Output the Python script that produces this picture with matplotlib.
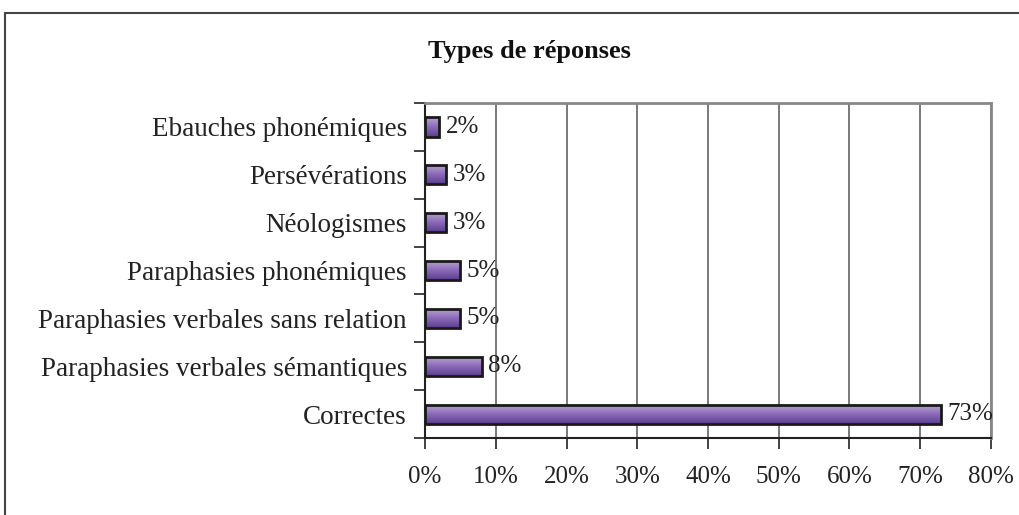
import numpy as np
import matplotlib.pyplot as plt
from matplotlib.patches import Rectangle
from matplotlib.colors import LinearSegmentedColormap

categories = ['Correctes', 'Paraphasies verbales sémantiques', 'Paraphasies verbales sans relation',
              'Paraphasies phonémiques', 'Néologismes', 'Persévérations', 'Ebauches phonémiques']
values = [73, 8, 5, 5, 3, 3, 2]
xticks = [0, 10, 20, 30, 40, 50, 60, 70, 80]

plt.rcParams['font.family'] = ['Liberation Serif', 'DejaVu Serif']

fig = plt.figure(figsize=(10.19, 5.15), dpi=100)
ax = fig.add_axes([0.4171, 0.1495, 0.5554, 0.6505])

y = np.arange(len(categories))
bars = ax.barh(y, values, height=0.4, facecolor='none', edgecolor='#1a1a1a', linewidth=2, zorder=3)

# gradient fill, dark top to light bottom
cmap = LinearSegmentedColormap.from_list('purp', ['#5a3f8e', '#8a6bb8', '#bda2d6'])
grad = np.linspace(0, 1, 64).reshape(-1, 1)
for b in bars:
    x0, y0, w, h = b.get_x(), b.get_y(), b.get_width(), b.get_height()
    im = ax.imshow(grad, cmap=cmap, aspect='auto', extent=(x0, x0 + w, y0 + h, y0),
                   origin='upper', zorder=2)
    im.set_clip_path(b)

for yi, v in zip(y, values):
    ax.text(v + 0.9, yi, f'{v}%', va='center', ha='left', fontsize=18, color='#222222', zorder=4)

ax.set_xlim(0, 80)
ax.set_ylim(-0.5, len(categories) - 0.5)
ax.set_xticks(xticks)
ax.set_xticklabels([f'{t}%' for t in xticks], fontsize=18, color='#222222')
ax.set_yticks(y)
ax.set_yticklabels(categories, fontsize=19.5, color='#222222')
ax.set_yticks(np.arange(-0.5, len(categories)), minor=True)
ax.tick_params(axis='y', which='major', length=0, pad=13)
ax.tick_params(axis='y', which='minor', length=8, width=1.2, color='#222222')
ax.tick_params(axis='x', length=8, width=1.2, color='#222222', pad=12)
ax.xaxis.grid(True, color='#555555', linewidth=1.1, zorder=0)
ax.set_axisbelow(True)
ax.spines['left'].set_color('#222222')
ax.spines['left'].set_linewidth(1.5)
ax.spines['bottom'].set_color('#222222')
ax.spines['bottom'].set_linewidth(1.5)
ax.spines['top'].set_color('#888888')
ax.spines['top'].set_linewidth(2)
ax.spines['right'].set_color('#888888')
ax.spines['right'].set_linewidth(2)

fig.text(0.52, 0.9, 'Types de réponses', ha='center', va='center', fontsize=19, fontweight='bold', color='#111111')

fig.patches.append(Rectangle((0.005, -0.1), 1.1, 1.075, transform=fig.transFigure, fill=False,
                             edgecolor='#444444', linewidth=1.5))

fig.savefig('out.png', dpi=100)
